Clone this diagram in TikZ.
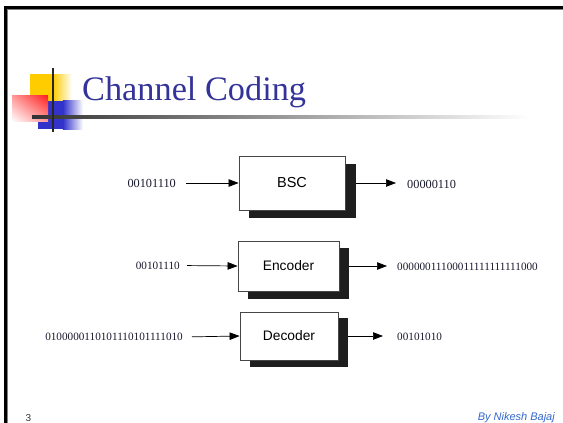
\documentclass[tikz,border=0pt]{standalone}
\usepackage{fontspec}
\setmainfont{Liberation Serif}
\setsansfont{Liberation Sans}
\usetikzlibrary{arrows.meta,shadings}
\definecolor{titleblue}{RGB}{51,51,153}
\definecolor{footblue}{RGB}{51,102,204}
\definecolor{bitcol}{RGB}{25,25,45}
\definecolor{boxline}{RGB}{70,70,70}
\definecolor{shadowcol}{RGB}{30,30,30}
\definecolor{decoyellow}{RGB}{255,204,0}
\definecolor{decoblue}{RGB}{51,51,204}
\definecolor{decored}{RGB}{255,30,30}
\begin{document}
\begin{tikzpicture}[x=1pt,y=-1pt,
 blk/.style={draw=boxline, line width=0.8pt, fill=white, font=\sffamily\fontsize{13.8}{14}\selectfont, inner sep=0pt},
 shd/.style={fill=shadowcol, draw=none, inner sep=0pt},
 bit/.style={font=\fontsize{11.2}{12}\selectfont, text=bitcol, inner sep=0pt},
 arr/.style={-{Triangle[length=10pt,width=7.5pt]}, line width=0.7pt, draw=black}
]
\useasboundingbox (0,0) rectangle (563,423);
\clip (0,0) rectangle (563,423);
% frame
\draw[line width=3pt] (5.5,430) -- (5.5,7.5) -- (570,7.5);
\draw[gray, line width=0.8pt] (7.8,430) -- (7.8,9.8) -- (570,9.8);
% decoration
\fill[decoyellow] (30,74) rectangle (53,100.7);
\shade[left color=decoyellow, right color=white] (52.9,74) rectangle (72,100.7);
\fill[decoblue] (38,100.7) rectangle (63,129);
\shade[left color=decoblue, right color=white] (62.9,100.7) rectangle (83,129);
\shade[upper right=decored, upper left=decored!45!white, lower right=decored!45!white, lower left=white] (12,95.7) rectangle (48,121.7);
\shade[left color=black!80, right color=white] (32,115.8) rectangle (530,118.8);
\draw[line width=1.6pt, black!85] (52.7,68) -- (52.7,132);
% title
\node[anchor=base west, inner sep=0pt, text=titleblue, font=\fontsize{34.3}{40}\selectfont] (title) at (82,100) {Channel Coding};
% BSC
\node[shd, minimum width=107pt, minimum height=54pt] (bscsh) at (302.5,191) {};
\node[blk, minimum width=106pt, minimum height=54pt, font=\sffamily\fontsize{14.5}{15}\selectfont] (bsc) at (292,183) {BSC};
\node[bit, anchor=east, font=\fontsize{12.3}{13}\selectfont] (in1) at (176,183) {00101110};
\node[bit, anchor=west, font=\fontsize{12.3}{13}\selectfont] (out1) at (407,184.5) {00000110};
\draw[arr, shorten <=10pt] (in1.east) -- (bsc.west);
\draw[arr] (bscsh.east |- bsc.east) -- ([xshift=-11pt]out1.west |- bsc.east);
% Encoder
\node[shd, minimum width=101pt, minimum height=51pt] (encsh) at (298.5,273.5) {};
\node[blk, minimum width=101pt, minimum height=50pt] (enc) at (288.5,266) {Encoder};
\node[bit, anchor=east] (in2) at (180,265.5) {00101110};
\node[bit, anchor=west] (out2) at (397,267) {00000011100011111111111000};
\draw[arr, shorten <=7pt] (in2.east) -- (enc.west);
\draw[arr] (encsh.east |- enc.east) -- ([xshift=-10pt]out2.west |- enc.east);
% Decoder
\node[shd, minimum width=98pt, minimum height=49pt] (decsh) at (299,342.5) {};
\node[blk, minimum width=98pt, minimum height=48pt] (dec) at (289,336) {Decoder};
\node[bit, anchor=east] (in3) at (183,337) {0100000110101110101111010};
\node[bit, anchor=west] (out3) at (397,337) {00101010};
\draw[arr, shorten <=9pt] (in3.east) -- (dec.west);
\draw[arr] (decsh.east |- dec.east) -- ([xshift=-14pt]out3.west |- dec.east);
% footer
\node[anchor=base west, inner sep=0pt, font=\sffamily\fontsize{10}{12}\selectfont, text=black!80] (pg) at (25.5,421.5) {3};
\node[anchor=base east, inner sep=0pt, font=\sffamily\itshape\fontsize{11}{13}\selectfont, text=footblue] (by) at (555,420.5) {By Nikesh Bajaj};
\end{tikzpicture}
\end{document}
